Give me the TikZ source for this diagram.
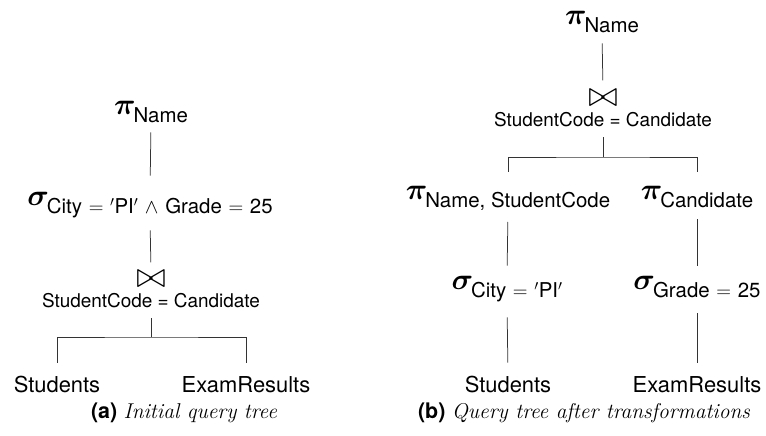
\RequirePackage{fix-cm}
\documentclass[tikz,border=0pt]{standalone}
\usepackage{amsmath,bm}
\usepackage{fontspec}
\setsansfont{TeX Gyre Heros}
\begin{document}
% relational operator with a lowered sans-serif subscript
\newcommand\relop[2]{{\fontsize{30}{32}\selectfont$\bm{#1}$}\kern-2bp\raisebox{-8bp}{\fontsize{20.5}{24}\selectfont\sffamily #2}}
\newcommand\joinsym{{\fontsize{36}{36}\selectfont$\bowtie$}}
\newcommand\eqs{\kern1bp$=$\kern1bp}
\newcommand\captxt[2]{{\sffamily\bfseries (#1)} {\itshape #2}}
\begin{tikzpicture}[x=1bp,y=-1bp,
  op/.style={inner sep=0pt,outer sep=0pt,anchor=base},
  rel/.style={inner sep=0pt,outer sep=0pt,anchor=base,font=\fontsize{22}{26}\selectfont\sffamily},
  cond/.style={inner sep=0pt,outer sep=0pt,anchor=base,font=\fontsize{19}{22}\selectfont\sffamily},
  capnode/.style={inner sep=0pt,outer sep=0pt,anchor=base,font=\fontsize{21.5}{25}\selectfont},
  link/.style={line width=0.75bp,draw=black!80}]
\useasboundingbox (0,0) rectangle (766,436);

% ---- (a) initial query tree ----
\node[op] (lpi)  at (151,115) {\relop{\pi}{Name}};
\node[op] (lsel) at (150,206) {\relop{\sigma}{City \eqs{} $'$PI$'$ \kern1bp$\wedge$\kern1bp{} Grade \eqs{} 25}};
\node[op] (ljoin) at (151,288) {\joinsym};
\node[cond] (lcond) at (151,308) {StudentCode = Candidate};
\node[rel] (lstud) at (57,392)  {Students};
\node[rel] (lexam) at (246,392) {ExamResults};
\coordinate (lfork) at (151,337);
\node[capnode] (capa) at (184,418) {\captxt{a}{Initial query tree}};

\draw[link,shorten <=9bp,shorten >=17bp] (lpi.south) -- (lsel.north);
\draw[link,shorten <=12bp,shorten >=9bp] (lsel.south) -- (ljoin.north);
\draw[link,shorten <=10bp] (lcond.south) -- (lfork);
\draw[link,shorten <=13bp,shorten >=13bp] (lstud.north) |- (lfork) -| (lexam.north);

% ---- (b) query tree after transformations ----
\node[op] (rpi)  at (602,25) {\relop{\pi}{Name}};
\node[op] (rjoin) at (603,107) {\joinsym};
\node[cond] (rcond) at (603,127) {StudentCode = Candidate};
\coordinate (rfork) at (603,157);
\node[op] (rpil) at (508,200) {\relop{\pi}{Name, StudentCode}};
\node[op] (rpir) at (697,200) {\relop{\pi}{Candidate}};
\node[op] (rsell) at (507,290) {\relop{\sigma}{City \eqs{} $'$PI$'$}};
\node[op] (rselr) at (697,290) {\relop{\sigma}{Grade \eqs{} 25}};
\node[rel] (rstud) at (508,392) {Students};
\node[rel] (rexam) at (697,392) {ExamResults};
\node[capnode] (capb) at (584,418) {\captxt{b}{Query tree after transformations}};

\draw[link,shorten <=10bp,shorten >=10bp] (rpi.south) -- (rjoin.north);
\draw[link,shorten <=10bp] (rcond.south) -- (rfork);
\draw[link,shorten <=15bp,shorten >=15bp] (rpil.north) |- (rfork) -| (rpir.north);
\draw[link,shorten <=11bp,shorten >=11bp] (rpil.south) -- (rsell.north);
\draw[link,shorten <=11bp,shorten >=11bp] (rpir.south) -- (rselr.north);
\draw[link,shorten <=15bp,shorten >=13bp] (rsell.south) -- (rstud.north);
\draw[link,shorten <=15bp,shorten >=13bp] (rselr.south) -- (rexam.north);
\end{tikzpicture}
\end{document}
